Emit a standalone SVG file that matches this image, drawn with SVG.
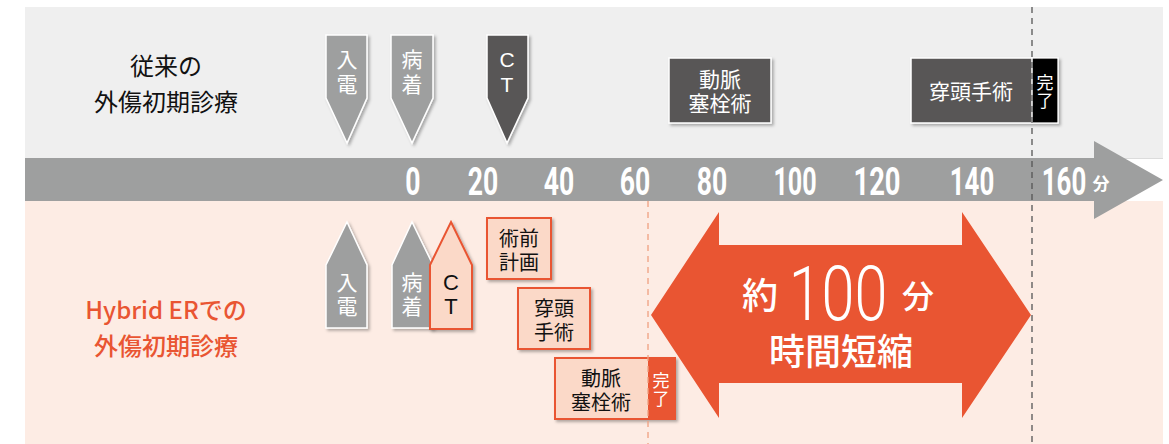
<svg xmlns="http://www.w3.org/2000/svg" width="1169" height="444" viewBox="0 0 1169 444">
<defs>
<filter id="sh" x="-20%" y="-20%" width="150%" height="150%">
<feDropShadow dx="2" dy="2" stdDeviation="1.5" flood-color="#000" flood-opacity="0.3"/>
</filter>
<style>
.jp{font-family:"Noto Sans CJK JP","Noto Sans",sans-serif;}
.lat{font-family:"Liberation Sans",Arial,sans-serif;}
.ax{font-family:Roboto,"Liberation Sans",sans-serif;font-weight:700;fill:#fff;font-size:38px;text-anchor:middle;}
.wt{fill:#fff;}
.bk{fill:#111;}
.gm{fill:#9e9f9f;stroke:#fff;stroke-width:1.5;}
.dm{fill:#595757;stroke:#fff;stroke-width:1.5;}
.om{fill:#fbd9c8;stroke:#e95532;stroke-width:2;}
</style>
</defs>

<!-- backgrounds -->
<rect x="25" y="7" width="1138" height="151" fill="#efefef"/>
<rect x="25" y="201" width="1138" height="243" fill="#fdece4"/>
<line x1="25" y1="158.5" x2="1163" y2="158.5" stroke="#dcdcdc" stroke-width="1"/>

<!-- time axis -->
<g id="axis">
<polygon points="25,158 1094,158 1094,141 1163,180 1094,219 1094,201 25,201" fill="#9e9f9f"/>
<text class="ax" transform="translate(413,195) scale(0.7,1)">0</text>
<text class="ax" transform="translate(483,195) scale(0.7,1)">20</text>
<text class="ax" transform="translate(559,195) scale(0.7,1)">40</text>
<text class="ax" transform="translate(635,195) scale(0.7,1)">60</text>
<text class="ax" transform="translate(712,195) scale(0.7,1)">80</text>
<text class="ax" transform="translate(795,195) scale(0.66,1)">100</text>
<text class="ax" transform="translate(877,195) scale(0.72,1)">120</text>
<text class="ax" transform="translate(972,195) scale(0.68,1)">140</text>
<text class="ax" transform="translate(1064,195) scale(0.68,1)">160</text>
<text class="jp wt" x="1101" y="190" text-anchor="middle" font-size="17" font-weight="700">分</text>
</g>

<!-- row labels -->
<g id="label-conventional">
<text class="jp" x="166" y="75" text-anchor="middle" font-size="24" fill="#111">従来の</text>
<text class="jp" x="166" y="111" text-anchor="middle" font-size="24" fill="#111">外傷初期診療</text>
</g>
<g id="label-hybrid">
<text class="jp" x="166" y="319" text-anchor="middle" font-size="24" font-weight="500" fill="#e95532">Hybrid ERでの</text>
<text class="jp" x="166" y="355" text-anchor="middle" font-size="24" font-weight="500" fill="#e95532">外傷初期診療</text>
</g>

<!-- top markers -->
<g id="top-call">
<polygon class="gm" points="326,35 367,35 367,98 347,143 326,98" filter="url(#sh)"/>
<text class="jp wt" x="347" y="67" text-anchor="middle" font-size="21">入</text>
<text class="jp wt" x="347" y="92" text-anchor="middle" font-size="21">電</text>
</g>
<g id="top-arrive">
<polygon class="gm" points="391,35 433,35 433,98 412,143 391,98" filter="url(#sh)"/>
<text class="jp wt" x="412" y="67" text-anchor="middle" font-size="21">病</text>
<text class="jp wt" x="412" y="92" text-anchor="middle" font-size="21">着</text>
</g>
<g id="top-ct">
<polygon class="dm" points="487,35 528,35 528,98 507,143 487,98" filter="url(#sh)"/>
<text class="lat wt" x="507" y="67" text-anchor="middle" font-size="21">C</text>
<text class="lat wt" x="507" y="92" text-anchor="middle" font-size="21">T</text>
</g>
<g id="top-tae">
<rect class="dm" x="669" y="58" width="102" height="65" filter="url(#sh)"/>
<text class="jp wt" x="720" y="87" text-anchor="middle" font-size="21">動脈</text>
<text class="jp wt" x="720" y="111" text-anchor="middle" font-size="21">塞栓術</text>
</g>
<g id="top-craniotomy">
<rect class="dm" x="911" y="58" width="147" height="65" filter="url(#sh)"/>
<rect x="1032" y="58.75" width="25.25" height="63.5" fill="#000"/>
<line x1="1032" y1="58" x2="1032" y2="123" stroke="#fff" stroke-width="1.5"/>
<text class="jp wt" x="971" y="99" text-anchor="middle" font-size="21">穿頭手術</text>
<text class="jp wt" x="1045" y="89" text-anchor="middle" font-size="17">完</text>
<text class="jp wt" x="1045" y="107" text-anchor="middle" font-size="17">了</text>
</g>

<!-- bottom markers -->
<g id="bot-call">
<polygon class="gm" points="347,222 367,265 367,328 326,328 326,265" filter="url(#sh)"/>
<text class="jp wt" x="347" y="290" text-anchor="middle" font-size="21">入</text>
<text class="jp wt" x="347" y="314" text-anchor="middle" font-size="21">電</text>
</g>
<g id="bot-arrive">
<polygon class="gm" points="412,222 433,265 433,328 392,328 392,265" filter="url(#sh)"/>
<text class="jp wt" x="412" y="290" text-anchor="middle" font-size="21">病</text>
<text class="jp wt" x="412" y="314" text-anchor="middle" font-size="21">着</text>
</g>
<g id="bot-ct">
<polygon class="om" points="451,222 472,265 472,329 430,329 430,265" filter="url(#sh)"/>
<text class="lat bk" x="451" y="290" text-anchor="middle" font-size="22">C</text>
<text class="lat bk" x="451" y="314" text-anchor="middle" font-size="22">T</text>
</g>
<g id="bot-plan">
<rect class="om" x="487" y="218" width="64" height="61" filter="url(#sh)"/>
<text class="jp bk" x="519" y="246" text-anchor="middle" font-size="20">術前</text>
<text class="jp bk" x="519" y="270" text-anchor="middle" font-size="20">計画</text>
</g>
<g id="bot-craniotomy">
<rect class="om" x="518" y="288" width="72" height="61" filter="url(#sh)"/>
<text class="jp bk" x="554" y="316" text-anchor="middle" font-size="20">穿頭</text>
<text class="jp bk" x="554" y="340" text-anchor="middle" font-size="20">手術</text>
</g>
<g id="bot-tae">
<rect class="om" x="555" y="358" width="120" height="61" filter="url(#sh)"/>
<rect x="648" y="358" width="27" height="61" fill="#e95532"/>
<text class="jp bk" x="601" y="386" text-anchor="middle" font-size="20">動脈</text>
<text class="jp bk" x="601" y="410" text-anchor="middle" font-size="20">塞栓術</text>
<text class="jp wt" x="661" y="387" text-anchor="middle" font-size="17">完</text>
<text class="jp wt" x="661" y="405" text-anchor="middle" font-size="17">了</text>
</g>

<!-- dashed guide lines -->
<g id="connectors">
<line x1="1032" y1="7" x2="1032" y2="444" stroke="#555" stroke-width="1.3" stroke-dasharray="6,5"/>
<line x1="648" y1="201" x2="648" y2="444" stroke="#f0a080" stroke-width="1.3" stroke-dasharray="6,5"/>
</g>

<!-- big double arrow -->
<g id="reduction">
<polygon points="651,315 719,212 719,245 962,245 962,212 1031,315 962,418 962,383 719,383 719,418" fill="#e95532"/>
<text class="jp wt" x="760" y="309" text-anchor="middle" font-size="36" font-weight="500">約</text>
<text transform="translate(838,320) scale(0.78,1)" text-anchor="middle" font-family="Roboto,'Liberation Sans',sans-serif" font-weight="300" font-size="76" fill="#fff">100</text>
<text class="jp wt" x="918" y="308" text-anchor="middle" font-size="32" font-weight="500">分</text>
<text class="jp wt" x="841" y="365" text-anchor="middle" font-size="36" font-weight="500">時間短縮</text>
</g>
</svg>
